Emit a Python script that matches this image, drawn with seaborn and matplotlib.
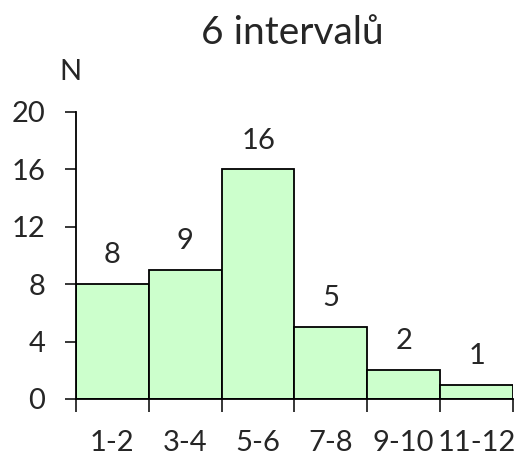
import matplotlib
matplotlib.use("Agg")
import matplotlib.pyplot as plt
import seaborn as sns
import pandas as pd
import numpy as np

categories = ["1-2", "3-4", "5-6", "7-8", "9-10", "11-12"]
counts = [8, 9, 16, 5, 2, 1]
yticks = [0, 4, 8, 12, 16, 20]
title = "6 intervalů"

sns.set_style("white")
plt.rcParams['font.family'] = ['Lato', 'DejaVu Sans']

df = pd.DataFrame({"cat": categories, "n": counts})

fig = plt.figure(figsize=(5.19, 4.62), dpi=100)
ax = fig.add_axes([0.1464, 0.1364, 0.8420, 0.6212])
sns.barplot(data=df, x="cat", y="n", ax=ax, color="#CCFFCC", width=1.0,
            edgecolor="black", linewidth=1.3, saturation=1)

fs = 21
ax.set_xlim(-0.5, len(categories) - 0.5)
ax.set_ylim(0, 20)
ax.set_yticks(yticks)
ax.set_yticklabels([str(v) for v in yticks], fontsize=fs)
ax.tick_params(axis='y', direction='out', length=8, width=1.3, left=True, pad=14)
ax.set_xticks(range(len(categories)))
ax.set_xticklabels(categories, fontsize=fs)
ax.tick_params(axis='x', which='major', length=0, pad=22)
ax.set_xticks(np.arange(-0.5, len(categories), 1.0), minor=True)
ax.tick_params(axis='x', which='minor', direction='out', length=9, width=1.3, bottom=True)
ax.set_xlabel("")
ax.set_ylabel("")
for s in ["top", "right"]:
    ax.spines[s].set_visible(False)
for s in ["left", "bottom"]:
    ax.spines[s].set_color("black")
    ax.spines[s].set_linewidth(1.3)

for i, v in enumerate(counts):
    ax.annotate(str(v), (i, v), xytext=(0, 15), textcoords="offset points",
                ha="center", va="baseline", fontsize=fs)

fig.text(70 / 519, 1 - 72 / 462, "N", ha="center", va="center", fontsize=fs)
fig.text(292 / 519, 1 - 33 / 462, title, ha="center", va="center", fontsize=28)

fig.savefig("out.png", dpi=100)
